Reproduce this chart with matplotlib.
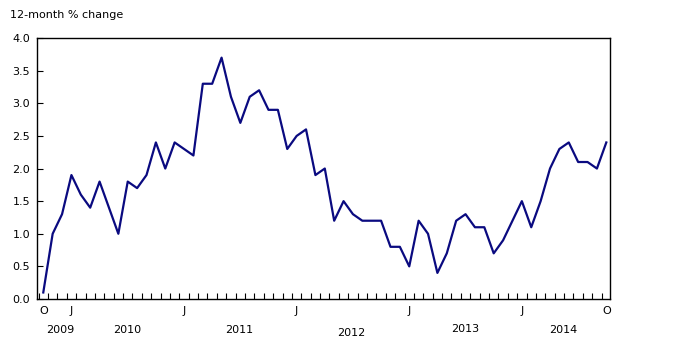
import numpy as np
import matplotlib
matplotlib.use('Agg')
import matplotlib.pyplot as plt
import matplotlib.transforms as mtransforms

# monthly values, October 2009 to October 2014
values = [0.1, 1.0, 1.3,
          1.9, 1.6, 1.4, 1.8, 1.4, 1.0, 1.8, 1.7, 1.9, 2.4, 2.0, 2.4,
          2.3, 2.2, 3.3, 3.3, 3.7, 3.1, 2.7, 3.1, 3.2, 2.9, 2.9, 2.3,
          2.5, 2.6, 1.9, 2.0, 1.2, 1.5, 1.3, 1.2, 1.2, 1.2, 0.8, 0.8,
          0.5, 1.2, 1.0, 0.4, 0.7, 1.2, 1.3, 1.1, 1.1, 0.7, 0.9, 1.2,
          1.5, 1.1, 1.5, 2.0, 2.3, 2.4, 2.1, 2.1, 2.0, 2.4]
month_labels = ['O', 'J', 'J', 'J', 'J', 'J', 'O']
month_label_idx = [0, 3, 15, 27, 39, 51, 60]
years = ['2009', '2010', '2011', '2012', '2013', '2014']
year_pos = [1.8, 8.9, 20.9, 32.8, 45.0, 55.4]
year_dy = [0, 0, 0, -3, 1, 0]

x = np.arange(len(values))

fig = plt.figure(figsize=(6.75, 3.4), dpi=100)
ax = fig.add_axes([0.0548, 0.1206, 0.849, 0.7674])
ax.plot(x, values, color='#0a0a80', lw=1.6)

ax.set_xlim(-0.67, 60.4)
ax.set_ylim(0, 4.0)
ax.set_yticks(np.arange(0, 4.01, 0.5))
ax.set_yticklabels(['%.1f' % v for v in np.arange(0, 4.01, 0.5)])
ax.tick_params(axis='y', direction='in', length=4, width=0.8, labelsize=8, pad=5)

ax.set_xticks(month_label_idx)
ax.set_xticklabels(month_labels)
ax.set_xticks(np.arange(-0.5, 60.5, 1), minor=True)
ax.tick_params(axis='x', which='major', length=0, labelsize=8, pad=5)
ax.tick_params(axis='x', which='minor', direction='in', length=4, width=0.8)

for s in ax.spines.values():
    s.set_linewidth(1)
    s.set_color('black')

trans = mtransforms.blended_transform_factory(ax.transData, fig.transFigure)
for yr, xp, dy in zip(years, year_pos, year_dy):
    ax.text(xp, (340 - 330 + dy) / 340, yr, transform=trans, ha='center',
            va='center', fontsize=8)

fig.text(10 / 675, 1 - 15 / 340, '12-month % change', ha='left', va='center',
         fontsize=8)

fig.savefig('out.png', dpi=100)
